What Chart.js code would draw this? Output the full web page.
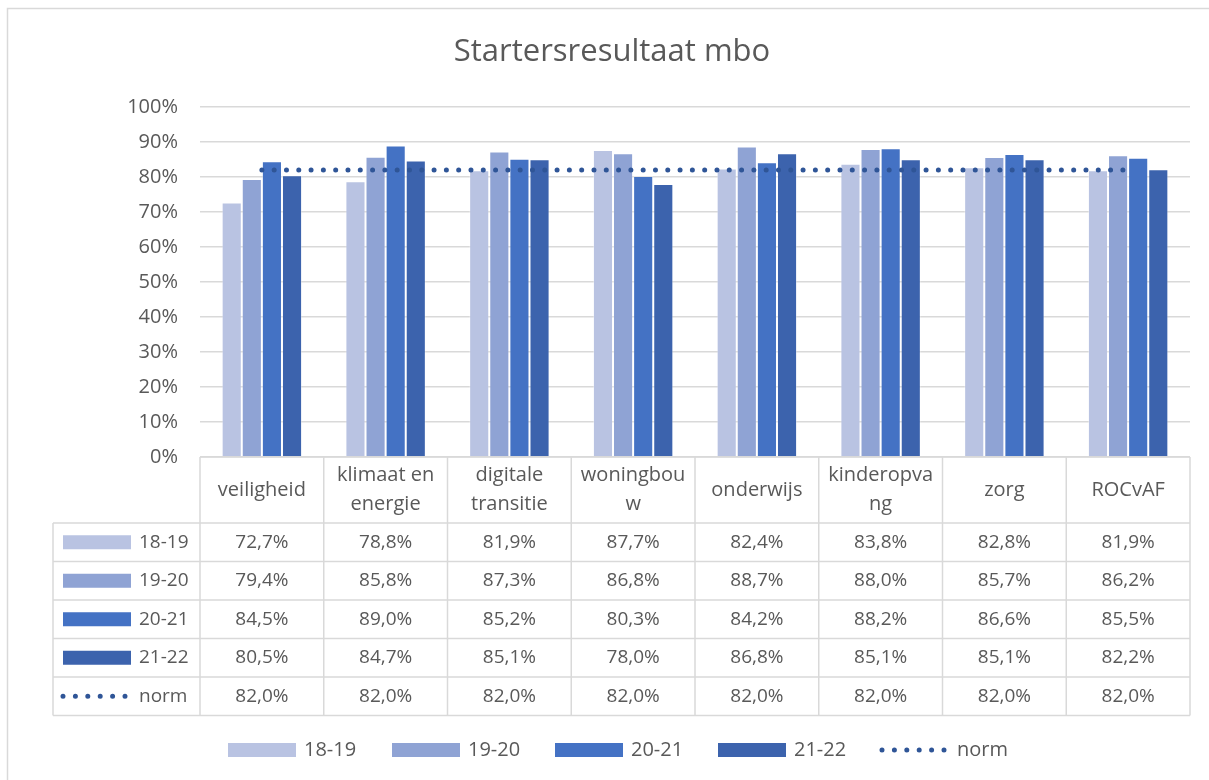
<!DOCTYPE html>
<html>
<head>
<meta charset="utf-8">
<script src="https://cdn.jsdelivr.net/npm/chart.js@4"></script>
<style>
  html, body { margin: 0; padding: 0; background: #fff; }
  #wrap { width: 1209px; height: 780px; }
</style>
</head>
<body>
<div id="wrap"><canvas id="startersChart" width="1209" height="780"></canvas></div>
<script>
var categories = [
  ['veiligheid'], ['klimaat en', 'energie'], ['digitale', 'transitie'], ['woningbou', 'w'],
  ['onderwijs'], ['kinderopva', 'ng'], ['zorg'], ['ROCvAF']
];
var seriesNames = ['18-19', '19-20', '20-21', '21-22'];
var y1819 = [72.7, 78.8, 81.9, 87.7, 82.4, 83.8, 82.8, 81.9];
var y1920 = [79.4, 85.8, 87.3, 86.8, 88.7, 88.0, 85.7, 86.2];
var y2021 = [84.5, 89.0, 85.2, 80.3, 84.2, 88.2, 86.6, 85.5];
var y2122 = [80.5, 84.7, 85.1, 78.0, 86.8, 85.1, 85.1, 82.2];
var norm = [82.0, 82.0, 82.0, 82.0, 82.0, 82.0, 82.0, 82.0];
var yTicks = [0, 10, 20, 30, 40, 50, 60, 70, 80, 90, 100];

var colors = ['#B9C3E2', '#8FA3D4', '#4472C4', '#3C63AD'];
var normColor = '#2F5597';
var textColor = '#595959';
var lineColor = '#D9D9D9';
var FONT = '"Open Sans", sans-serif';

function pct(v) { return v.toFixed(1).replace('.', ',') + '%'; }

var barSeries = [y1819, y1920, y2021, y2122];
var datasets = barSeries.map(function (vals, i) {
  return {
    type: 'bar', label: seriesNames[i], data: vals,
    backgroundColor: colors[i], borderColor: 'rgba(255,255,255,0.35)', borderWidth: 1,
    categoryPercentage: 0.65, barPercentage: 1.0, order: 1
  };
});
datasets.push({
  type: 'line', label: 'norm', data: norm,
  borderColor: normColor, borderWidth: 5, borderDash: [0, 12.3], borderCapStyle: 'round',
  pointRadius: 0, fill: false, order: 0
});

function drawDots(ctx, x0, x1, y) {
  ctx.save();
  ctx.strokeStyle = normColor;
  ctx.lineWidth = 5;
  ctx.lineCap = 'round';
  ctx.setLineDash([0, 12.4]);
  ctx.beginPath();
  ctx.moveTo(x0, y);
  ctx.lineTo(x1, y);
  ctx.stroke();
  ctx.restore();
}

var extras = {
  id: 'extras',
  beforeDraw: function (chart) {
    var ctx = chart.ctx;
    ctx.save();
    ctx.fillStyle = '#fff';
    ctx.fillRect(0, 0, chart.width, chart.height);
    ctx.strokeStyle = lineColor;
    ctx.lineWidth = 1.5;
    ctx.strokeRect(7.5, 8.5, 1400, 1400);
    ctx.restore();
  },
  afterDraw: function (chart) {
    var ctx = chart.ctx;
    var a = chart.chartArea;
    var n = categories.length;
    var w = (a.right - a.left) / n;
    var headTop = a.bottom, headBot = headTop + 66;
    var rowH = 38.5;
    var tableLeft = 53;
    var rows = seriesNames.concat(['norm']);
    var rowVals = barSeries.concat([norm]);
    var tableBot = headBot + rowH * rows.length;

    ctx.save();
    // title
    ctx.fillStyle = textColor;
    ctx.font = '31px ' + FONT;
    ctx.textAlign = 'center';
    ctx.textBaseline = 'middle';
    ctx.fillText('Startersresultaat mbo', 612, 52);

    // table lines
    ctx.strokeStyle = lineColor;
    ctx.lineWidth = 1.5;
    ctx.beginPath();
    ctx.moveTo(a.left, headTop); ctx.lineTo(a.right, headTop);
    for (var r = 0; r <= rows.length; r++) {
      var yy = headBot + r * rowH;
      ctx.moveTo(tableLeft, yy); ctx.lineTo(a.right, yy);
    }
    ctx.moveTo(tableLeft, headBot); ctx.lineTo(tableLeft, tableBot);
    for (var i = 0; i <= n; i++) {
      var xx = a.left + i * w;
      ctx.moveTo(xx, headTop); ctx.lineTo(xx, tableBot);
    }
    ctx.stroke();

    // header labels
    ctx.fillStyle = textColor;
    ctx.font = '20px ' + FONT;
    for (var c = 0; c < n; c++) {
      var cx = a.left + (c + 0.5) * w;
      var lines = categories[c];
      var mid = (headTop + headBot) / 2;
      lines.forEach(function (t, k) {
        ctx.fillText(t, cx, mid + (k - (lines.length - 1) / 2) * 29);
      });
    }

    // rows
    ctx.font = '19px ' + FONT;
    for (var r2 = 0; r2 < rows.length; r2++) {
      var cy = headBot + (r2 + 0.5) * rowH;
      if (r2 < 4) {
        ctx.fillStyle = colors[r2];
        ctx.fillRect(63, cy - 7, 68, 14);
      } else {
        drawDots(ctx, 63, 127, cy);
      }
      ctx.fillStyle = textColor;
      ctx.textAlign = 'left';
      ctx.fillText(rows[r2], 139, cy);
      ctx.textAlign = 'center';
      for (var c2 = 0; c2 < n; c2++) {
        ctx.fillText(pct(rowVals[r2][c2]), a.left + (c2 + 0.5) * w, cy);
      }
    }

    // bottom legend
    var ly = 750;
    var lx = [228, 392, 555, 718];
    ctx.font = '20px ' + FONT;
    ctx.textAlign = 'left';
    for (var s = 0; s < 4; s++) {
      ctx.fillStyle = colors[s];
      ctx.fillRect(lx[s], ly - 7, 68, 14);
      ctx.fillStyle = textColor;
      ctx.fillText(seriesNames[s], lx[s] + 76, ly);
    }
    drawDots(ctx, 882, 946, ly);
    ctx.fillStyle = textColor;
    ctx.fillText('norm', 957, ly);
    ctx.restore();
  }
};

new Chart(document.getElementById('startersChart'), {
  type: 'bar',
  data: { labels: categories, datasets: datasets },
  options: {
    responsive: false,
    animation: false,
    layout: { padding: { left: 0, right: 19, top: 107, bottom: 323 } },
    plugins: { legend: { display: false }, title: { display: false }, tooltip: { enabled: false } },
    scales: {
      x: { display: false },
      y: {
        min: 0, max: 100,
        afterFit: function (scale) { scale.width = 200; },
        afterBuildTicks: function (scale) { scale.ticks = yTicks.map(function (v) { return { value: v }; }); },
        border: { display: false },
        grid: { color: lineColor, lineWidth: 1.5, drawTicks: false },
        ticks: {
          padding: 22, color: textColor, font: { family: FONT, size: 20 },
          callback: function (v) { return v + '%'; }
        }
      }
    }
  },
  plugins: [extras]
});
</script>
</body>
</html>
